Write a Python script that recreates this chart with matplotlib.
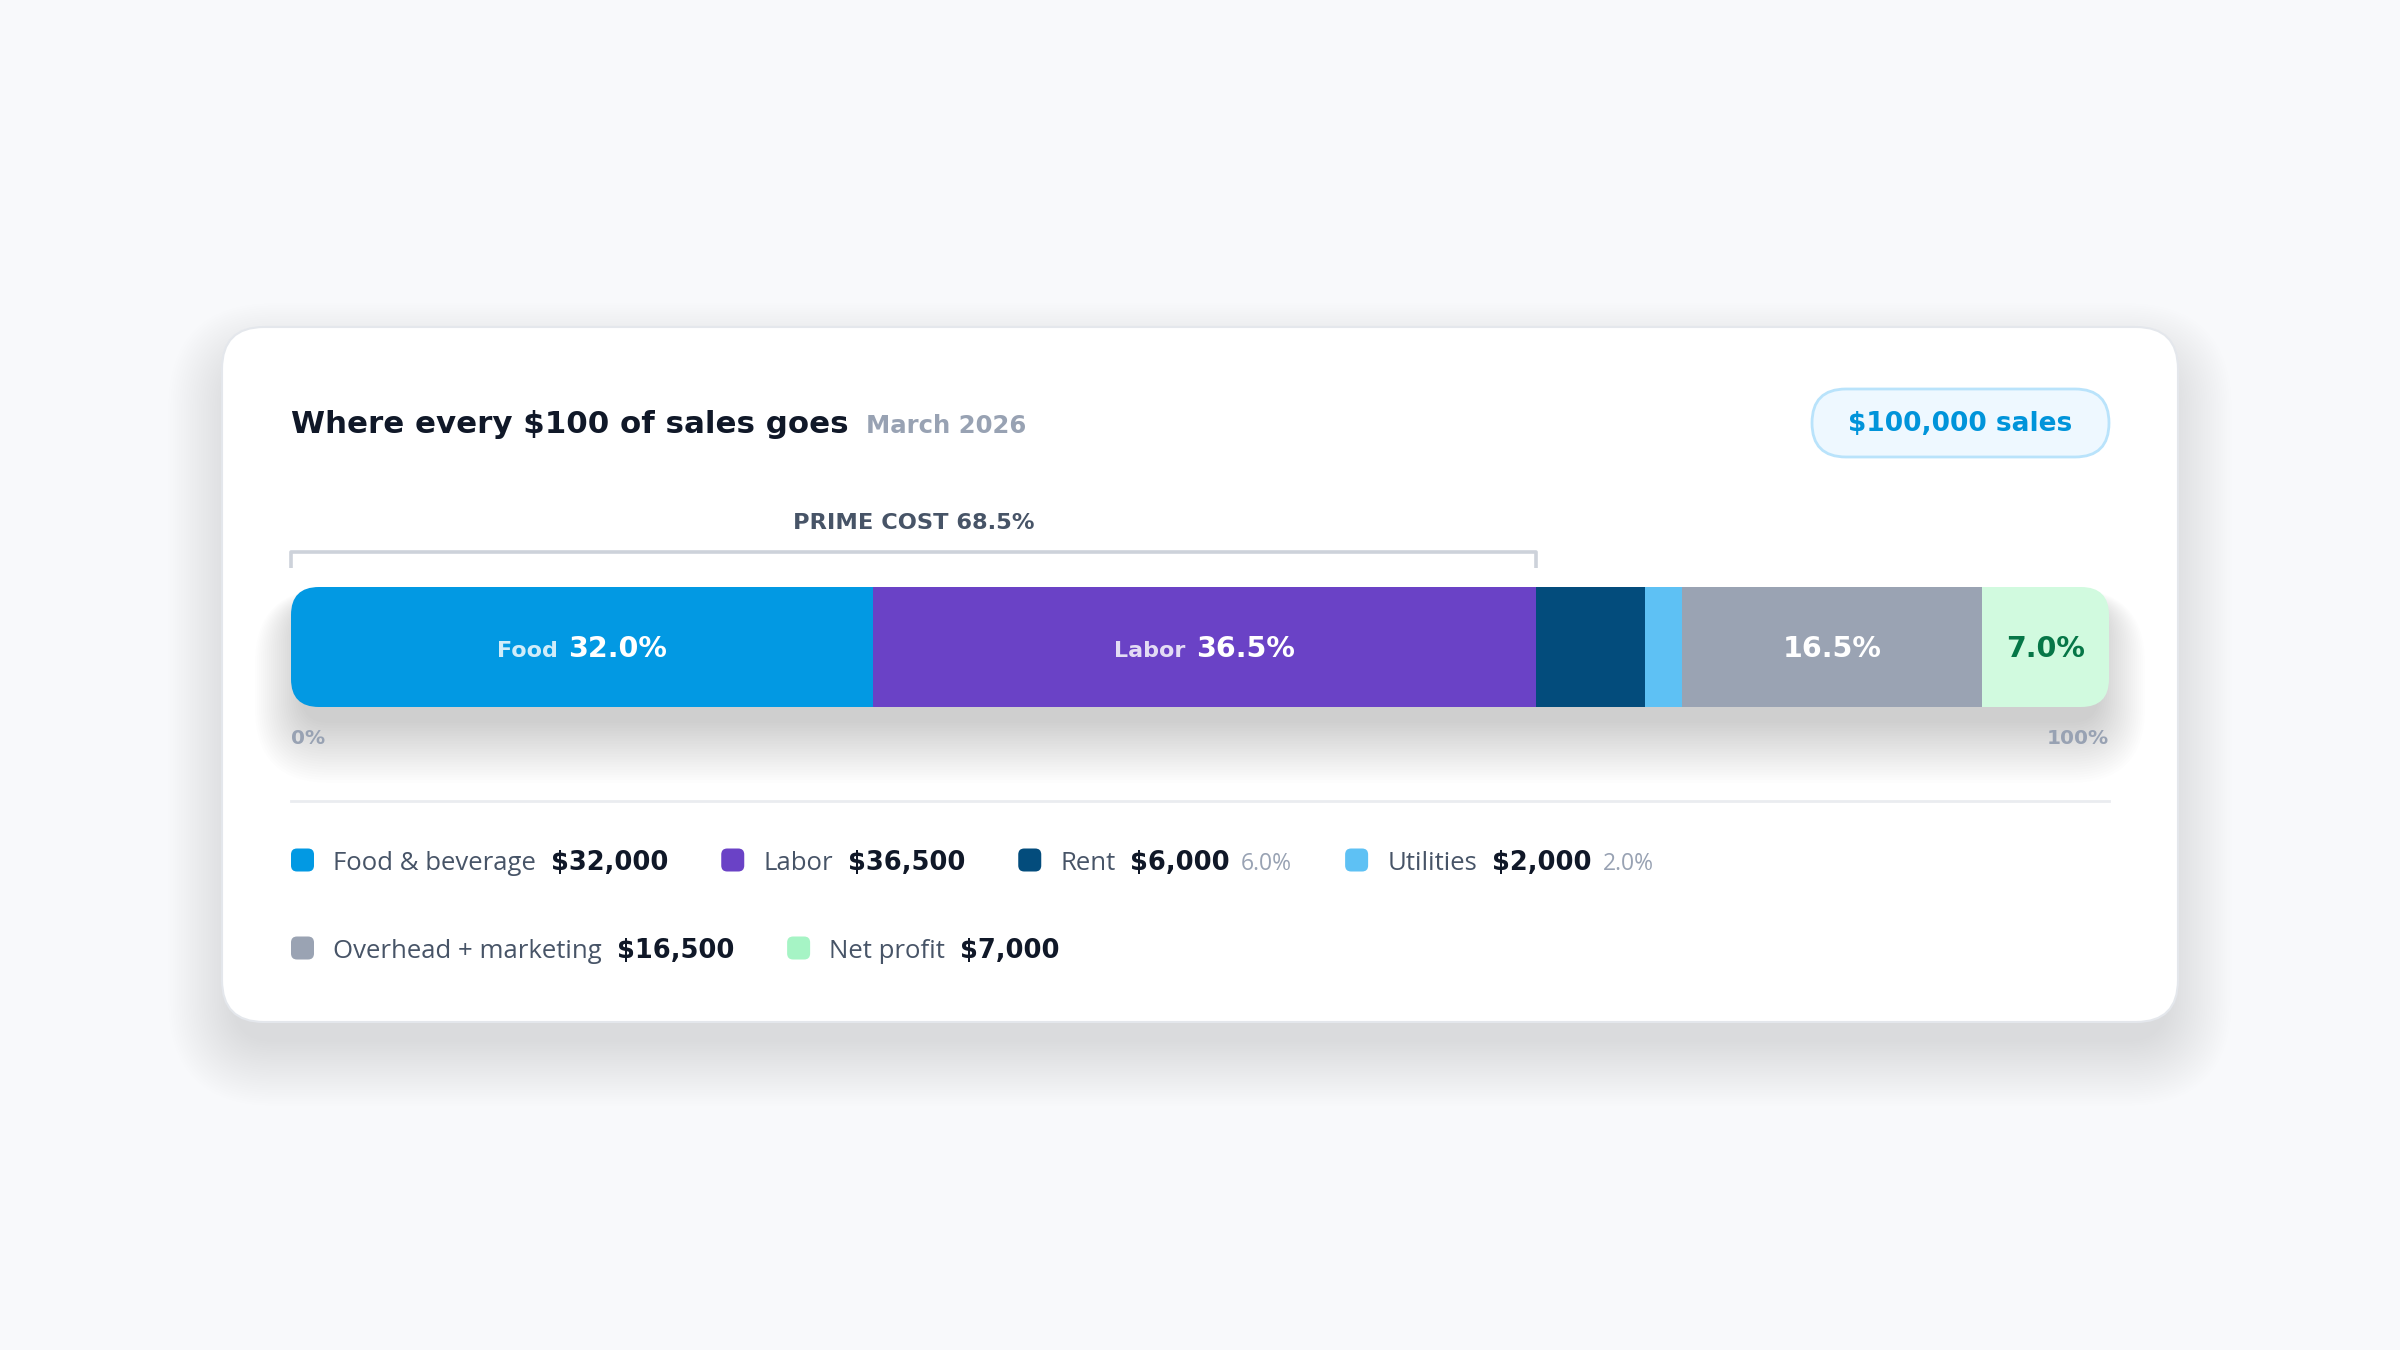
import matplotlib
matplotlib.use("Agg")
import matplotlib.pyplot as plt
from matplotlib.patches import FancyBboxPatch
import numpy as np

# ---------------- data ----------------
categories = ["Food & beverage", "Labor", "Rent", "Utilities", "Overhead + marketing", "Net profit"]
bar_labels = ["Food", "Labor", "", "", "", ""]
amounts = [32000, 36500, 6000, 2000, 16500, 7000]
total_sales = 100000
prime_cost_count = 2          # Food + Labor
show_bar_value = [True, True, False, False, True, True]

title = "Where every $100 of sales goes"
subtitle = "March 2026"
badge = "$100,000 sales"
axis_ticks = ["0%", "100%"]

# ---------------- styles ----------------
bar_colors = ["#0299E3", "#6A42C6", "#034C7C", "#5EC1F4", "#9AA3B3", "#D1FADF"]
legend_colors = ["#0299E3", "#6A42C6", "#034C7C", "#5EC1F4", "#9AA3B3", "#A6F4C5"]
bar_text_colors = ["white", "white", "white", "white", "white", "#067647"]
legend_rows = [[0, 1, 2, 3], [4, 5]]

HEAD = "DejaVu Sans"
BODY = "Open Sans"
W, H = 2400, 1350
DPI = 100

shares = [a / total_sales * 100 for a in amounts]
lefts = np.concatenate([[0], np.cumsum(shares)[:-1]])

fig = plt.figure(figsize=(W / DPI, H / DPI), dpi=DPI)
fig.patch.set_facecolor("#F8F9FB")
bg = fig.add_axes([0, 0, 1, 1])
bg.set_xlim(0, W)
bg.set_ylim(H, 0)
bg.axis("off")
renderer = fig.canvas.get_renderer()


def width_of(t):
    return t.get_window_extent(renderer=renderer).width


# ---------------- card ----------------
cx, cy, cw, ch = 222, 327, 1956, 695
for k in range(30):
    pad = k * 2.2
    bg.add_patch(FancyBboxPatch((cx - pad + 10, cy - pad + 40), cw + 2 * pad - 20, ch + 2 * pad - 20,
                                boxstyle=f"round,pad=0,rounding_size={42 + pad}",
                                fc="#1D2939", ec="none", alpha=0.0026, zorder=1))
bg.add_patch(FancyBboxPatch((cx, cy), cw, ch, boxstyle="round,pad=0,rounding_size=42",
                            fc="white", ec="#E4E7EC", lw=1.5, zorder=2))

# ---------------- title ----------------
tx, tbase = 291, 433
t = bg.text(tx, tbase, title, fontsize=22.2, fontweight="bold", family=HEAD,
            color="#101828", va="baseline", ha="left", zorder=5)
tw = width_of(t)
bg.text(tx + tw + 17, tbase, subtitle, fontsize=17.6, fontweight="bold", family=HEAD,
        color="#98A2B3", va="baseline", ha="left", zorder=5)

# badge
bx, by, bw, bh = 1812, 389, 297, 68
bg.add_patch(FancyBboxPatch((bx, by), bw, bh, boxstyle=f"round,pad=0,rounding_size={bh/2}",
                            fc="#EEF8FF", ec="#B9E3FB", lw=2, zorder=4))
bg.text(bx + bw / 2, by + bh / 2 + 1, badge, fontsize=19, fontweight="bold", family=HEAD,
        color="#0094DA", ha="center", va="center", zorder=5)

# ---------------- bar ----------------
bar_x0, bar_top, bar_w, bar_h = 291, 587, 1818, 120
for k in range(24):
    pad = k * 2.0
    bg.add_patch(FancyBboxPatch((bar_x0 + 10 - pad, bar_top + 16 - 0.3 * pad), bar_w - 20 + 2 * pad,
                                bar_h + 1.6 * pad,
                                boxstyle=f"round,pad=0,rounding_size={28 + pad}",
                                fc="#101828", ec="none", alpha=0.0075, zorder=3))

ax = fig.add_axes([bar_x0 / W, 1 - (bar_top + bar_h) / H, bar_w / W, bar_h / H])
ax.set_xlim(0, 100)
ax.set_ylim(0, 1)
ax.axis("off")
ax.set_zorder(5)
ax.patch.set_visible(False)

clip = FancyBboxPatch((bar_x0, bar_top), bar_w, bar_h, boxstyle="round,pad=0,rounding_size=28",
                      transform=bg.transData)
bars = ax.barh(0.5, shares, left=lefts, height=1, color=bar_colors, linewidth=0)
for b in bars:
    b.set_clip_path(clip)

# bar labels
big_fs, small_fs = 20.5, 16
baseline_off = -0.73 * big_fs / 2
for i in range(len(shares)):
    if not show_bar_value[i]:
        continue
    center = lefts[i] + shares[i] / 2
    val = f"{shares[i]:.1f}%"
    tv = ax.text(0, 0, val, fontsize=big_fs, fontweight="bold", family=HEAD)
    vw = width_of(tv) * 72 / DPI
    tv.remove()
    if bar_labels[i]:
        tl = ax.text(0, 0, bar_labels[i], fontsize=small_fs, fontweight="bold", family=HEAD)
        lw_ = width_of(tl) * 72 / DPI
        tl.remove()
        gap = 7.5
        total = lw_ + gap + vw
        ax.annotate(bar_labels[i], xy=(center, 0.5), xytext=(-total / 2, baseline_off),
                    textcoords="offset points", ha="left", va="baseline",
                    fontsize=small_fs, fontweight="bold", family=HEAD,
                    color=bar_text_colors[i], alpha=0.82)
        ax.annotate(val, xy=(center, 0.5), xytext=(-total / 2 + lw_ + gap, baseline_off),
                    textcoords="offset points", ha="left", va="baseline",
                    fontsize=big_fs, fontweight="bold", family=HEAD, color=bar_text_colors[i])
    else:
        ax.annotate(val, xy=(center, 0.5), xytext=(0, baseline_off),
                    textcoords="offset points", ha="center", va="baseline",
                    fontsize=big_fs, fontweight="bold", family=HEAD, color=bar_text_colors[i])

# prime cost bracket
prime = sum(shares[:prime_cost_count])
ax.plot([0, 0, prime, prime], [1.16, 1.29, 1.29, 1.16], color="#CDD2DA", lw=2.6,
        solid_joinstyle="round", solid_capstyle="butt", clip_on=False)
ax.text(prime / 2, 1.535, f"PRIME COST {prime:.1f}%", ha="center", va="center",
        fontsize=16.2, fontweight="bold", family=HEAD, color="#475467")

# axis ends
ax.text(0, -0.26, axis_ticks[0], ha="left", va="center", fontsize=14.5,
        fontweight="bold", family=HEAD, color="#98A2B3")
ax.text(100, -0.26, axis_ticks[1], ha="right", va="center", fontsize=14.5,
        fontweight="bold", family=HEAD, color="#98A2B3")

# separator
bg.plot([291, 2109], [801, 801], color="#EAECF0", lw=2, zorder=4)

# ---------------- legend ----------------
row_y = [860, 948]
sq = 23
for r, row in enumerate(legend_rows):
    x = 291
    yc = row_y[r]
    base = yc + 9.5
    for i in row:
        bg.add_patch(FancyBboxPatch((x, yc - sq / 2), sq, sq, boxstyle="round,pad=0,rounding_size=6",
                                    fc=legend_colors[i], ec="none", zorder=5))
        x += sq + 19
        t1 = bg.text(x, base, categories[i], fontsize=18.5, family=BODY, color="#475467",
                     va="baseline", ha="left", zorder=5)
        x += width_of(t1) + 15
        t2 = bg.text(x, base, f"${amounts[i]:,.0f}", fontsize=18.5, fontweight="bold", family=HEAD,
                     color="#101828", va="baseline", ha="left", zorder=5)
        x += width_of(t2)
        if not show_bar_value[i]:
            x += 11
            t3 = bg.text(x, base, f"{shares[i]:.1f}%", fontsize=16.5, family=BODY,
                         color="#98A2B3", va="baseline", ha="left", zorder=5)
            x += width_of(t3)
        x += 53

fig.savefig("out.png", dpi=DPI, facecolor=fig.get_facecolor())
